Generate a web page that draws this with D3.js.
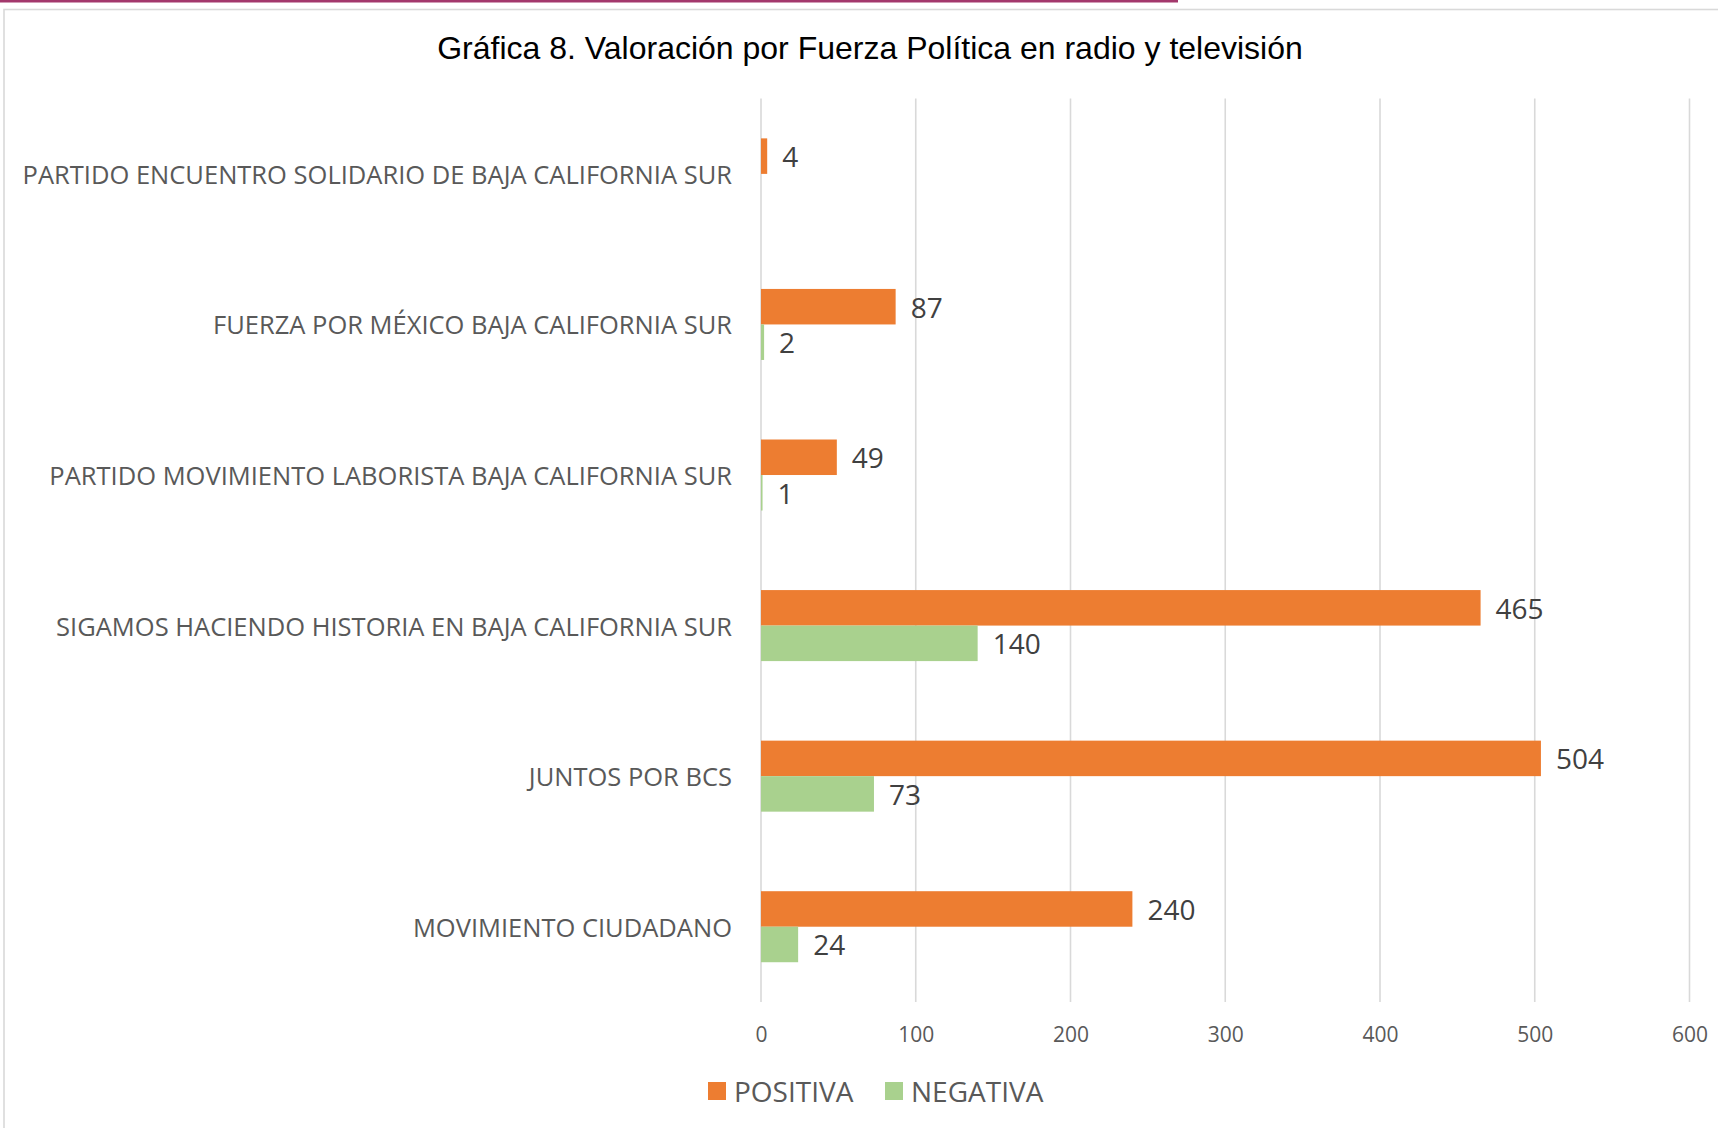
<!DOCTYPE html>
<html>
<head>
<meta charset="utf-8">
<script src="https://cdn.jsdelivr.net/npm/d3@7"></script>
<style>
  body { margin: 0; background: #fff; }
  svg { display: block; }
</style>
</head>
<body>
<svg id="chart"></svg>
<script>
// Data
const categories = [
  'PARTIDO ENCUENTRO SOLIDARIO DE BAJA CALIFORNIA SUR',
  'FUERZA POR MÉXICO BAJA CALIFORNIA SUR',
  'PARTIDO MOVIMIENTO LABORISTA BAJA CALIFORNIA SUR',
  'SIGAMOS HACIENDO HISTORIA EN BAJA CALIFORNIA SUR',
  'JUNTOS POR BCS',
  'MOVIMIENTO CIUDADANO'
]
const positiva = [4, 87, 49, 465, 504, 240]
const negativa = [null, 2, 1, 140, 73, 24]
const seriesNames = ['POSITIVA', 'NEGATIVA']
const xTicks = [0, 100, 200, 300, 400, 500, 600]
const title = 'Gráfica 8. Valoración por Fuerza Política en radio y televisión'

const colors = { POSITIVA: '#ED7D31', NEGATIVA: '#A9D18E' }

// Canvas setup
const width = 1718
const height = 1128
const svg = d3.select('#chart')
    .attr('width', width)
    .attr('height', height)
    .style('font-family', '"Open Sans", sans-serif')

// page frame
svg.append('rect')
    .attr('x', 4).attr('y', 9.5)
    .attr('width', width + 20).attr('height', height + 20)
    .attr('fill', '#fff')
    .attr('stroke', '#D9D9D9')
    .attr('stroke-width', 1.6)
svg.append('rect')
    .attr('x', 0).attr('y', 0)
    .attr('width', 1178).attr('height', 2.5)
    .attr('fill', '#A3386C')

// title
svg.append('text')
    .attr('x', 870).attr('y', 48)
    .attr('text-anchor', 'middle')
    .attr('dominant-baseline', 'central')
    .style('font-family', '"Liberation Sans", Arial, sans-serif')
    .style('font-size', '32px')
    .attr('fill', '#000')
    .text(title)

// scales
const plotTop = 98.6
const plotBottom = 1002
const xScale = d3.scaleLinear()
    .domain([0, 600])
    .range([761, 1689.5])

const yScale = d3.scaleBand()
    .domain(categories)
    .range([plotTop, plotBottom])
    .padding(0)

const groupH = yScale.bandwidth() / 2.12
const ySub = d3.scaleBand()
    .domain(seriesNames)
    .range([0, groupH])

// gridlines
svg.append('g')
    .selectAll('line')
    .data(xTicks)
    .enter()
    .append('line')
    .attr('x1', (d) => xScale(d))
    .attr('x2', (d) => xScale(d))
    .attr('y1', plotTop)
    .attr('y2', plotBottom)
    .attr('stroke', '#D9D9D9')
    .attr('stroke-width', 1.6)

// x axis
const xAxis = d3.axisBottom(xScale)
    .tickValues(xTicks)
    .tickSize(0)
    .tickPadding(0)
const gx = svg.append('g')
    .attr('transform', 'translate(0,' + 1034 + ')')
    .call(xAxis)
gx.select('.domain').remove()
gx.selectAll('text')
    .attr('y', 0)
    .attr('dy', null)
    .attr('dominant-baseline', 'central')
    .style('font-family', '"Open Sans", sans-serif')
    .style('font-size', '21px')
    .attr('fill', '#595959')

// y axis (category labels)
const yAxis = d3.axisLeft(yScale)
    .tickSize(0)
    .tickPadding(29)
const gy = svg.append('g')
    .attr('transform', 'translate(' + 761 + ',0)')
    .call(yAxis)
gy.select('.domain').remove()
gy.selectAll('text')
    .attr('dy', null)
    .attr('dominant-baseline', 'central')
    .style('font-family', '"Open Sans", sans-serif')
    .style('font-size', '25.5px')
    .attr('fill', '#595959')

// rows of bars
const rows = categories.map((c, i) => ({
    cat: c,
    vals: [
        { s: 'POSITIVA', v: positiva[i] },
        { s: 'NEGATIVA', v: negativa[i] }
    ].filter((d) => d.v !== null)
}))

const groups = svg.append('g')
    .selectAll('g')
    .data(rows)
    .enter()
    .append('g')
    .attr('transform', (d) => 'translate(0,' + (yScale(d.cat) + (yScale.bandwidth() - groupH) / 2) + ')')

groups.selectAll('rect')
    .data((d) => d.vals)
    .enter()
    .append('rect')
    .attr('x', xScale(0))
    .attr('y', (d) => ySub(d.s))
    .attr('width', (d) => xScale(d.v) - xScale(0))
    .attr('height', ySub.bandwidth())
    .attr('fill', (d) => colors[d.s])

groups.selectAll('text')
    .data((d) => d.vals)
    .enter()
    .append('text')
    .attr('x', (d) => xScale(d.v) + 15)
    .attr('y', (d) => ySub(d.s) + ySub.bandwidth() / 2)
    .attr('dominant-baseline', 'central')
    .style('font-size', '28px')
    .attr('fill', '#404040')
    .text((d) => d.v)

// legend
const legend = svg.append('g')
    .attr('transform', 'translate(0,1091)')
const legendX = { POSITIVA: 708, NEGATIVA: 885 }
seriesNames.forEach((s) => {
    legend.append('rect')
        .attr('x', legendX[s])
        .attr('y', -9)
        .attr('width', 18)
        .attr('height', 18)
        .attr('fill', colors[s])
    legend.append('text')
        .attr('x', legendX[s] + 26)
        .attr('y', 0)
        .attr('dominant-baseline', 'central')
        .style('font-size', '28px')
        .attr('fill', '#595959')
        .text(s)
})
</script>
</body>
</html>
